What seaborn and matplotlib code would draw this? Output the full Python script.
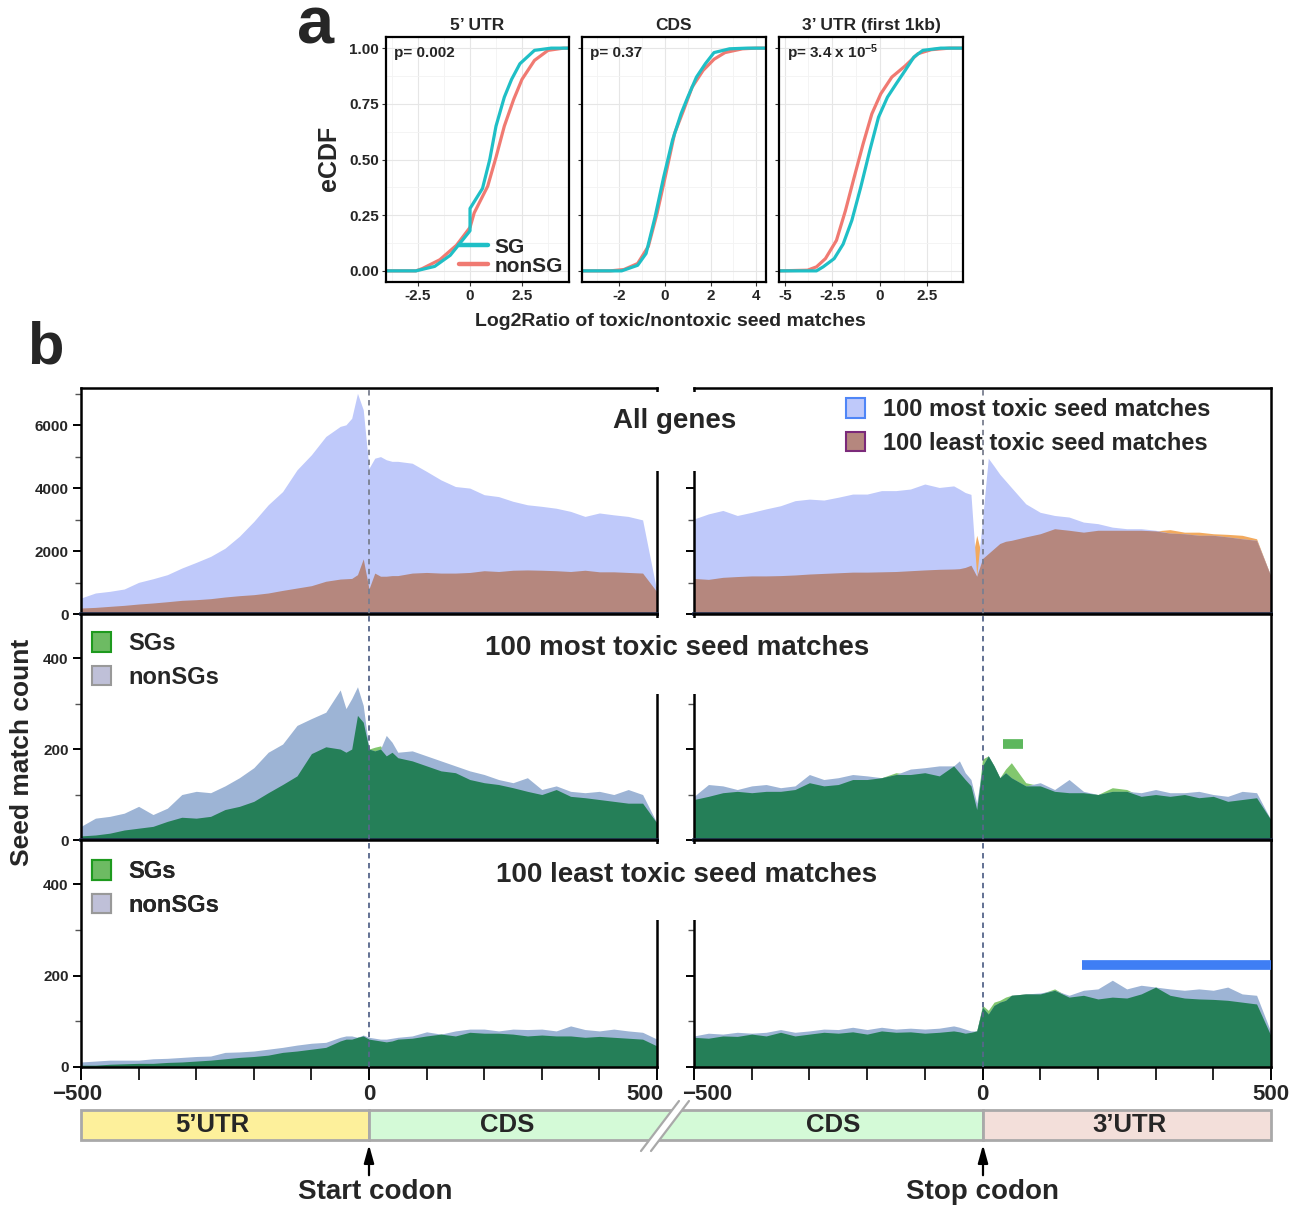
import numpy as np
import pandas as pd
import seaborn as sns
import matplotlib.pyplot as plt
from matplotlib.patches import Rectangle, Polygon, Patch
from matplotlib.lines import Line2D
from matplotlib.ticker import MultipleLocator, FixedLocator
from matplotlib.transforms import ScaledTranslation

sns.set_theme(style="white")
plt.rcParams['font.family'] = ['Liberation Sans', 'DejaVu Sans']
plt.rcParams['font.weight'] = 'bold'
plt.rcParams['mathtext.fontset'] = 'custom'
plt.rcParams['mathtext.rm'] = 'Liberation Sans:bold'
plt.rcParams['mathtext.default'] = 'rm'

# ---------------- panel a: eCDF curves (x at read-off eCDF levels) ----------------
ecdf_titles = ["5\u2019 UTR", "CDS", "3\u2019 UTR (first 1kb)"]
ecdf_pvals = ["p= 0.002", "p= 0.37", "p= 3.4 x 10$^{-5}$"]
ecdf_xticks = [[-2.5, 0, 2.5], [-2, 0, 2, 4], [-5, -2.5, 0, 2.5]]
ecdf_xlims = [(-4.04, 4.76), (-3.64, 4.43), (-5.3, 4.37)]

sg_5utr_x = [-2.6, -1.7, -0.95, -0.3, 0.0, 0.0, 0.6, 0.95, 1.25, 1.65, 2.0, 2.4, 3.1, 3.9]
sg_5utr_y = [0, 0.02, 0.07, 0.145, 0.18, 0.28, 0.37, 0.5, 0.65, 0.78, 0.86, 0.93, 0.99, 1.0]
non_5utr_x = [-2.6, -2.3, -1.45, -0.65, 0.0, 0.2, 0.85, 1.25, 1.65, 2.1, 2.5, 3.1, 3.75, 4.5]
non_5utr_y = [0, 0.01, 0.05, 0.115, 0.195, 0.26, 0.38, 0.51, 0.65, 0.77, 0.86, 0.945, 0.99, 1.0]

sg_cds_x = [-1.9, -1.2, -0.83, -0.44, -0.06, 0.33, 0.71, 1.0, 1.38, 1.77, 2.15, 2.83, 3.6]
sg_cds_y = [0, 0.025, 0.078, 0.24, 0.42, 0.587, 0.707, 0.78, 0.87, 0.93, 0.98, 0.997, 1.0]
non_cds_x = [-2.4, -1.8, -1.2, -0.73, -0.35, 0.04, 0.42, 0.81, 1.19, 1.67, 2.15, 2.63, 3.4, 4.0]
non_cds_y = [0, 0.006, 0.033, 0.11, 0.257, 0.436, 0.617, 0.72, 0.825, 0.9, 0.95, 0.98, 0.997, 1.0]

sg_3utr_x = [-3.33, -2.98, -2.4, -1.93, -1.47, -1.0, -0.53, -0.07, 0.4, 0.86, 1.33, 1.79, 2.26, 3.2]
sg_3utr_y = [0, 0.018, 0.055, 0.12, 0.227, 0.377, 0.54, 0.69, 0.78, 0.84, 0.9, 0.96, 0.99, 1.0]
non_3utr_x = [-3.8, -3.33, -2.86, -2.28, -1.81, -1.35, -0.88, -0.42, 0.05, 0.63, 1.33, 2.0, 2.7, 3.65]
non_3utr_y = [0.003, 0.018, 0.055, 0.137, 0.27, 0.42, 0.57, 0.705, 0.795, 0.87, 0.92, 0.975, 0.993, 1.0]

ecdf_curves = [
    (sg_5utr_x, sg_5utr_y, non_5utr_x, non_5utr_y),
    (sg_cds_x, sg_cds_y, non_cds_x, non_cds_y),
    (sg_3utr_x, sg_3utr_y, non_3utr_x, non_3utr_y),
]

# ---------------- panel b: seed match profiles ----------------
pos = list(range(-500, -49, 25)) + list(range(-40, 41, 10)) + list(range(50, 501, 25))

all_start_most = [508, 667, 720, 794, 1005, 1120, 1250, 1460, 1640, 1830, 2090, 2470, 2940, 3470, 3890, 4580, 5060, 5640, 5960,
                  6010, 6220, 7010, 6490, 4630, 4950, 5000, 4900, 4850,
                  4850, 4790, 4530, 4260, 4050, 4000, 3790, 3730, 3580, 3470, 3420, 3360, 3260, 3100, 3210, 3150, 3100, 2990, 700]
all_start_least = [190, 210, 243, 275, 317, 350, 390, 434, 455, 487, 540, 582, 614, 667, 750, 825, 900, 1040, 1110,
                   1120, 1130, 1250, 1750, 800, 1300, 1200, 1200, 1220,
                   1220, 1300, 1320, 1300, 1300, 1320, 1375, 1350, 1390, 1400, 1390, 1375, 1350, 1390, 1340, 1340, 1320, 1300, 850]
all_stop_most = [3020, 3180, 3290, 3130, 3230, 3340, 3440, 3600, 3650, 3620, 3710, 3810, 3810, 3920, 3920, 3970, 4130, 4020, 4070,
                 3970, 3860, 3800, 1200, 3000, 4950, 4700, 4440, 4230,
                 4020, 3500, 3230, 3130, 3080, 2920, 2870, 2760, 2710, 2710, 2660, 2570, 2550, 2500, 2500, 2450, 2390, 2340, 1190]
all_stop_least = [1130, 1100, 1165, 1190, 1210, 1210, 1220, 1240, 1270, 1290, 1310, 1330, 1330, 1340, 1350, 1375, 1400, 1420, 1430,
                  1440, 1480, 1550, 2500, 1760, 1920, 2080, 2240, 2310,
                  2340, 2450, 2550, 2710, 2660, 2600, 2660, 2660, 2660, 2660, 2640, 2680, 2600, 2600, 2550, 2530, 2500, 2390, 1190]

toxic_start_non = [30, 48, 52, 59, 74, 56, 70, 100, 107, 104, 119, 137, 159, 193, 211, 252, 267, 281, 330,
                   289, 311, 337, 296, 200, 196, 200, 230, 215,
                   193, 196, 185, 174, 163, 152, 144, 133, 126, 137, 111, 119, 107, 104, 107, 100, 111, 100, 37]
toxic_start_sg = [9, 11, 15, 22, 26, 30, 41, 50, 48, 52, 67, 74, 85, 104, 122, 141, 190, 205, 200,
                  193, 200, 274, 259, 200, 204, 207, 185, 193,
                  181, 174, 163, 152, 148, 133, 126, 122, 115, 107, 100, 111, 96, 93, 89, 85, 81, 81, 37]
toxic_stop_non = [96, 122, 119, 111, 119, 122, 115, 119, 144, 133, 137, 144, 141, 137, 144, 156, 159, 163, 163,
                  174, 148, 133, 81, 163, 185, 163, 137, 148,
                  137, 119, 126, 111, 133, 107, 100, 107, 107, 104, 111, 104, 104, 107, 100, 96, 107, 104, 44]
toxic_stop_sg = [89, 96, 104, 107, 104, 107, 107, 111, 126, 119, 122, 133, 133, 137, 148, 144, 148, 141, 163,
                 148, 133, 119, 67, 178, 185, 163, 137, 156,
                 170, 126, 119, 107, 104, 104, 100, 115, 111, 96, 100, 96, 100, 93, 96, 85, 89, 93, 44]

least_start_non = [11, 13, 15, 15, 15, 18, 19, 21, 23, 24, 32, 33, 35, 39, 43, 48, 52, 54, 65,
                   68, 68, 65, 70, 65, 63, 61, 61, 63,
                   65, 68, 77, 72, 79, 83, 83, 79, 83, 82, 83, 79, 90, 82, 79, 83, 79, 76, 61]
least_start_sg = [4, 4, 6, 7, 8, 8, 10, 11, 13, 15, 18, 21, 23, 26, 32, 35, 39, 43, 57,
                  61, 61, 65, 68, 61, 59, 57, 55, 57,
                  61, 63, 68, 72, 68, 76, 74, 74, 72, 68, 70, 68, 68, 65, 67, 65, 63, 61, 46]
least_stop_non = [68, 74, 72, 76, 74, 76, 82, 76, 79, 83, 82, 87, 82, 87, 83, 85, 83, 85, 90,
                  87, 83, 79, 79, 131, 116, 135, 142, 146,
                  157, 160, 162, 168, 157, 168, 171, 190, 171, 179, 175, 171, 168, 171, 168, 175, 160, 157, 76]
least_stop_sg = [65, 63, 68, 67, 72, 68, 76, 68, 72, 76, 74, 77, 72, 79, 76, 77, 74, 76, 79,
                 77, 74, 76, 79, 135, 124, 142, 146, 153,
                 157, 160, 160, 171, 153, 157, 149, 153, 151, 160, 175, 157, 151, 149, 148, 146, 142, 138, 68]

# significance bars: (start, end, height)
sig_toxic_stop = [36, 71, 211]
sig_least_stop = [173, 500, 224]

row_titles = ["All genes", "100 most toxic seed matches", "100 least toxic seed matches"]
top_legend = ["100 most toxic seed matches", "100 least toxic seed matches"]
sg_legend = ["SGs", "nonSGs"]
regions = ["5\u2019UTR", "CDS", "CDS", "3\u2019UTR"]

# colours
c_sg, c_non = '#1FBFC6', '#F07A72'
c_most, c_least, c_mix = '#BFC9FA', '#F2AA5E', '#B5877E'
c_nsg, c_sgl, c_sgd = '#9DB4D5', '#82C76E', '#257F58'

W, H = 1303, 1207
fig = plt.figure(figsize=(W / 100, H / 100), dpi=100)


def add_ax(x0, y0, x1, y1):
    return fig.add_axes([x0 / W, 1 - y1 / H, (x1 - x0) / W, (y1 - y0) / H])


# ---- panel a ----
a_boxes = [(386, 37, 569, 282), (582, 37, 766, 282), (779, 37, 963, 282)]
for i, box in enumerate(a_boxes):
    ax = add_ax(*box)
    sgx, sgy, nx, ny = ecdf_curves[i]
    lo, hi = ecdf_xlims[i]
    rows = []
    for grp, xs, ys in [("nonSG", nx, ny), ("SG", sgx, sgy)]:
        xs = [lo] + list(xs) + [hi]
        ys = [0] + list(ys) + [1]
        rows += [{"x": a, "y": b, "grp": grp} for a, b in zip(xs, ys)]
    df = pd.DataFrame(rows)
    sns.lineplot(data=df, x="x", y="y", hue="grp", palette={"SG": c_sg, "nonSG": c_non},
                 sort=False, estimator=None, lw=2.3, ax=ax, legend=False)
    ax.set_xlim(lo, hi)
    ax.set_ylim(-0.05, 1.05)
    ax.set_xlabel("")
    ax.set_ylabel("")
    xt = ecdf_xticks[i]
    ax.set_xticks(xt)
    ax.set_xticklabels([("%g" % t) for t in xt])
    ax.xaxis.set_minor_locator(FixedLocator([t + (xt[1] - xt[0]) / 2 for t in [xt[0] - (xt[1] - xt[0])] + xt]))
    ax.set_yticks([0, 0.25, 0.5, 0.75, 1.0])
    ax.yaxis.set_minor_locator(FixedLocator([0.125, 0.375, 0.625, 0.875]))
    if i == 0:
        ax.set_yticklabels(["0.00", "0.25", "0.50", "0.75", "1.00"])
    else:
        ax.set_yticklabels([])
    ax.grid(True, which='major', color='#E6E6E6', lw=0.8)
    ax.grid(True, which='minor', color='#F3F3F3', lw=0.6)
    ax.tick_params(which='major', direction='out', length=3, width=0.8, color='#333333',
                   labelsize=11, pad=2, left=True, bottom=True)
    ax.tick_params(which='minor', length=0)
    for s in ax.spines.values():
        s.set_color('black')
        s.set_linewidth(1.6)
    ax.set_title(ecdf_titles[i], fontsize=12.5, fontweight='bold', pad=5)
    ax.text(0.045, 0.935, ecdf_pvals[i], transform=ax.transAxes, fontsize=11, fontweight='bold', va='center')
    if i == 0:
        handles = [Line2D([], [], color=c_sg, lw=3.2), Line2D([], [], color=c_non, lw=3.2)]
        ax.legend(handles, ["SG", "nonSG"], loc='lower right', bbox_to_anchor=(1.0, 0.0), frameon=False,
                  fontsize=15, handlelength=1.4, handletextpad=0.3, labelspacing=0.0, borderpad=0.2,
                  borderaxespad=0.1)

# ---- panel b ----
cols = [(81, 657), (694, 1271)]
rows_px = [(388, 614), (614, 840), (840, 1067)]
ylims = [7180, 497, 497]
data = [
    [(all_start_least, all_start_most), (all_stop_least, all_stop_most)],
    [(toxic_start_sg, toxic_start_non), (toxic_stop_sg, toxic_stop_non)],
    [(least_start_sg, least_start_non), (least_stop_sg, least_stop_non)],
]
palettes = [(c_least, c_most, c_mix), (c_sgl, c_nsg, c_sgd), (c_sgl, c_nsg, c_sgd)]
b_axes = {}
for r, (y0, y1) in enumerate(rows_px):
    for c, (x0, x1) in enumerate(cols):
        ax = add_ax(x0, y0, x1, y1)
        b_axes[(r, c)] = ax
        ser_a, ser_b = (np.array(v, dtype=float) for v in data[r][c])
        ca, cb, cm = palettes[r]
        ax.fill_between(pos, 0, ser_a, color=ca, lw=0)
        ax.fill_between(pos, 0, ser_b, color=cb, lw=0)
        ax.fill_between(pos, 0, np.minimum(ser_a, ser_b), color=cm, lw=0)
        ax.axvline(0, color='#56668A' if r else '#7A7F90', ls=(0, (3, 2.5)), lw=1.3, zorder=3)
        ax.set_xlim(-500, 500)
        ax.set_ylim(0, ylims[r])
        if r == 0:
            ax.yaxis.set_major_locator(MultipleLocator(2000))
            ax.yaxis.set_minor_locator(MultipleLocator(1000))
        else:
            ax.yaxis.set_major_locator(MultipleLocator(200))
            ax.yaxis.set_minor_locator(MultipleLocator(100))
        ax.tick_params(axis='y', which='major', direction='out', length=6, width=1.4, color='black',
                       labelsize=11, pad=3, left=True, labelleft=(c == 0))
        ax.tick_params(axis='y', which='minor', direction='out', length=4, width=1.0, color='#555555', left=True)
        if r == 2:
            ax.set_xticks([-500, 0, 500])
            ax.xaxis.set_minor_locator(MultipleLocator(100))
            ax.tick_params(axis='x', which='major', direction='out', length=9, width=1.4, color='black',
                           labelsize=16, pad=3, bottom=True)
            ax.tick_params(axis='x', which='minor', direction='out', length=9, width=1.2, color='black', bottom=True)
            shifts = {(0, 0): -4, (0, 2): -12, (1, 0): 13}
            for k, lab in enumerate(ax.get_xticklabels()):
                dx = shifts.get((c, k), 0)
                if dx:
                    lab.set_transform(lab.get_transform() + ScaledTranslation(dx / 100, 0, fig.dpi_scale_trans))
        else:
            ax.set_xticks([])
        for name, s in ax.spines.items():
            s.set_color('black')
            s.set_linewidth(1.8)
        if r < 2:
            ax.spines['bottom'].set_color('#1E2B48')
            ax.spines['bottom'].set_linewidth(2.6)

# sig bars
ax = b_axes[(1, 1)]
ax.plot(sig_toxic_stop[:2], [sig_toxic_stop[2]] * 2, color='#5DB75D', lw=7, solid_capstyle='butt', zorder=4)
ax = b_axes[(2, 1)]
ax.plot(sig_least_stop[:2], [sig_least_stop[2]] * 2, color='#3F7EF4', lw=7, solid_capstyle='butt', zorder=4,
        clip_on=False)

# ---- overlay in pixel coordinates ----
ov = fig.add_axes([0, 0, 1, 1])
ov.set_xlim(0, W)
ov.set_ylim(H, 0)
ov.axis('off')

ov.text(316, 43, "a", fontsize=48, fontweight='bold', ha='center', va='baseline')
ov.text(329, 158, "eCDF", fontsize=18, fontweight='bold', rotation=90, ha='center', va='center')
ov.text(670, 322, "Log2Ratio of toxic/nontoxic seed matches", fontsize=14, fontweight='bold', ha='center', va='center')
ov.text(45, 363, "b", fontsize=43, fontweight='bold', ha='center', va='baseline')
ov.text(22, 752, "Seed match count", fontsize=19, fontweight='bold', rotation=90, ha='center', va='center')

# row titles with white boxes over the column gap
title_boxes = [(611, 392, 741, 471, 421, 675), (481, 618, 873, 694, 648, 677), (492, 844, 881, 920, 875, 687)]
for k, (bx0, by0, bx1, by1, ty, tx) in enumerate(title_boxes):
    ov.add_patch(Rectangle((bx0, by0), bx1 - bx0, by1 - by0, facecolor='white', edgecolor='none', zorder=5))
    ov.text(tx, ty, row_titles[k], fontsize=20, fontweight='bold', ha='center', va='center', zorder=6)

# legends
h_top = [Patch(facecolor=c_most, edgecolor='#4F86F7', lw=1.5), Patch(facecolor=c_mix, edgecolor='#7B2A7A', lw=1.5)]
leg = ov.legend(h_top, top_legend, loc='upper left', bbox_to_anchor=(846, 398), bbox_transform=ov.transData,
                frameon=False, fontsize=17, handlelength=0.8, handleheight=0.9, handletextpad=0.75,
                labelspacing=0.45, borderpad=0, borderaxespad=0)
ov.add_artist(leg)
for ly in [632, 860]:
    h_sg = [Patch(facecolor='#6DBB63', edgecolor='#1E9A1E', lw=1.5), Patch(facecolor='#BFC0D8', edgecolor='#999999', lw=1.5)]
    leg = ov.legend(h_sg, sg_legend, loc='upper left', bbox_to_anchor=(92, ly), bbox_transform=ov.transData,
                    frameon=False, fontsize=17, handlelength=0.8, handleheight=0.9, handletextpad=0.75,
                    labelspacing=0.45, borderpad=0, borderaxespad=0)
    ov.add_artist(leg)

# gene structure bar
bar_y, bar_h = 1110, 30
seg = [(81, 369, '#FDF09B'), (369, 983, '#D4FAD7'), (983, 1271, '#F3DFDA')]
for sx0, sx1, fc in seg:
    ov.add_patch(Rectangle((sx0, bar_y), sx1 - sx0, bar_h, facecolor=fc, edgecolor='#A9A9A9', lw=2))
ov.add_patch(Polygon([(641, 1151), (651, 1151), (689, 1101), (679, 1101)], closed=True, facecolor='white',
                     edgecolor='none', zorder=3))
ov.plot([641, 679], [1151, 1101], color='#A9A9A9', lw=1.6, zorder=4)
ov.plot([651, 689], [1151, 1101], color='#A9A9A9', lw=1.6, zorder=4)
for lx, lab in zip([212, 507, 833, 1129], regions):
    ov.text(lx, 1125, lab, fontsize=18.5, fontweight='bold', ha='center', va='center', zorder=5)

for ax_x, lab, tx in [(369, "Start codon", 375), (983, "Stop codon", 983)]:
    ov.annotate('', xy=(ax_x, 1142), xytext=(ax_x, 1178),
                arrowprops=dict(arrowstyle='-|>,head_length=0.9,head_width=0.25', color='black', lw=1.6))
    ov.text(tx, 1192, lab, fontsize=20, fontweight='bold', ha='center', va='center')

fig.savefig("out.png", dpi=100)
